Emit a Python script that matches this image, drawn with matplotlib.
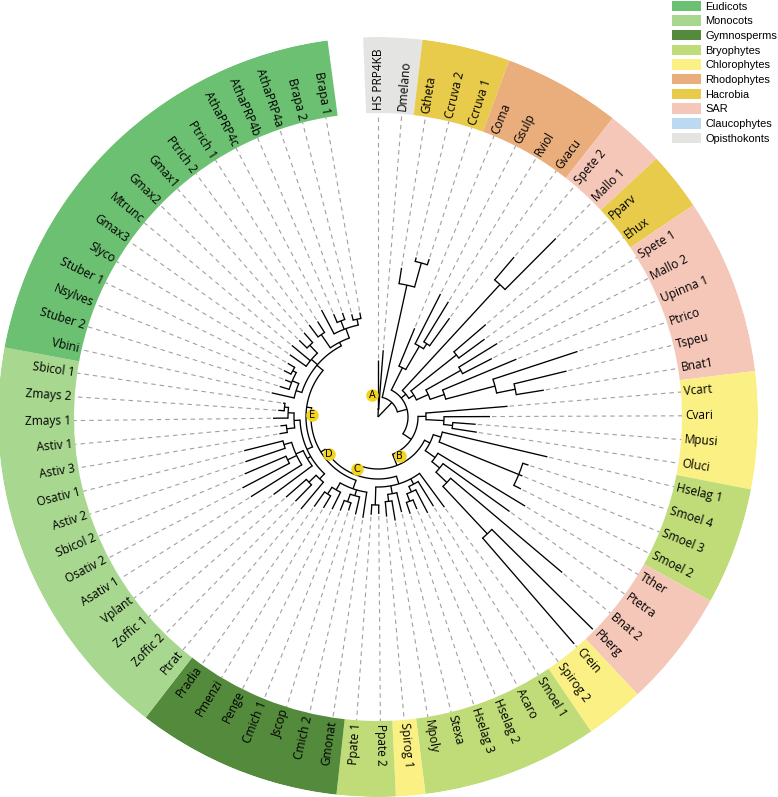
import numpy as np
import matplotlib
matplotlib.use("Agg")
import matplotlib.pyplot as plt
from matplotlib.patches import Patch

# ---------------- data ----------------
leaf_names = [
    "HS PRP4KB", "Dmelano", "Gtheta", "Ccruva 2", "Ccruva 1", "Coma", "Gsulp", "Rviol", "Gvacu",
    "Spete 2", "Mallo 1", "Pparv", "Ehux", "Spete 1", "Mallo 2", "Upinna 1", "Ptrico", "Tspeu", "Bnat1",
    "Vcart", "Cvari", "Mpusi", "Oluci", "Hselag 1", "Smoel 4", "Smoel 3", "Smoel 2",
    "Tther", "Ptetra", "Bnat 2", "Pberg", "Crein", "Spirog 2", "Smoel 1", "Acaro", "Hselag 2",
    "Hselag 3", "Stexa", "Mpoly", "Spirog 1", "Ppate 2", "Ppate 1",
    "Gmonat", "Cmich 2", "Jscop", "Cmich 1", "Penge", "Pmenzi", "Pradia",
    "Ptrat", "Zoffic 2", "Zoffic 1", "Vplant", "Asativ 1", "Osativ 2", "Sbicol 2", "Astiv 2",
    "Osativ 1", "Astiv 3", "Astiv 1", "Zmays 1", "Zmays 2", "Sbicol 1",
    "Vbini", "Stuber 2", "Nsylves", "Stuber 1", "Slyco", "Gmax3", "Mtrunc", "Gmax2", "Gmax1",
    "Ptrich 2", "Ptrich 1", "AthaPRP4c", "AthaPRP4b", "AthaPRP4a", "Brapa 2", "Brapa 1",
]
leaf_groups = (
    ["Opisthokonts"] * 2 + ["Hacrobia"] * 3 + ["Rhodophytes"] * 4 + ["SAR"] * 2 + ["Hacrobia"] * 2
    + ["SAR"] * 6 + ["Chlorophytes"] * 4 + ["Bryophytes"] * 4 + ["SAR"] * 4 + ["Chlorophytes"] * 2
    + ["Bryophytes"] * 6 + ["Chlorophytes"] * 1 + ["Bryophytes"] * 2 + ["Gymnosperms"] * 7
    + ["Monocots"] * 14 + ["Eudicots"] * 16
)
# distance of each tip from the root (tree units)
tip_depth = [
    57, 67, 151, 164, 166, 96, 138, 135, 122,
    210, 252, 142, 132, 140, 128, 150, 210, 194, 168,
    130, 112, 98, 100, 174, 158, 156, 160,
    172, 162, 241, 302, 300, 112, 105, 108, 100,
    102, 98, 105, 100, 97, 98,
    102, 100, 98, 101, 103, 106, 110,
    120, 118, 122, 130, 150, 153, 145, 140,
    138, 100, 98, 105, 100, 96,
    109, 103, 100, 105, 105, 108, 112, 110, 112,
    115, 113, 121, 112, 110, 106, 106,
]

# tree topology: [node depth, child, child, ...]; leaves are names
opis = [8, "HS PRP4KB", "Dmelano"]
hac1 = [135, "Gtheta", [160, "Ccruva 2", "Ccruva 1"]]
rhodo = [55, "Coma", [82, "Gsulp", [88, "Rviol", "Gvacu"]]]
sar_up = [36, [180, "Spete 2", "Mallo 1"],
          [42, [100, "Pparv", "Ehux"],
           [55, [95, "Spete 1", "Mallo 2"],
            [70, "Upinna 1", [121, "Ptrico", [140, "Tspeu", "Bnat1"]]]]]]
chl = [48, "Vcart", [66, "Cvari", [75, "Mpusi", "Oluci"]]]
mixed = [58, [66, "Hselag 1", [152, "Smoel 4", "Smoel 3", "Smoel 2"]],
         [70, "Tther", [80, "Ptetra", [95, "Bnat 2", [160, "Pberg", "Crein"]]]]]
bryo = [70, "Spirog 2", [76, "Smoel 1", [82, "Acaro", [90, "Hselag 2", "Hselag 3"]]],
        [78, "Stexa", [85, "Mpoly", "Spirog 1"]], [88, "Ppate 2", "Ppate 1"]]
gymno = [76, "Gmonat", [82, "Cmich 2", [90, "Jscop", "Cmich 1"]],
         [84, "Penge", [92, "Pmenzi", "Pradia"]]]
mono = [78, [85, "Ptrat", [95, "Zoffic 2", "Zoffic 1"]],
        [82, "Vplant", [90, "Asativ 1", [100, "Osativ 2", "Sbicol 2"], [98, "Astiv 2", "Osativ 1"]]],
        [84, [92, "Astiv 3", "Astiv 1"], [90, "Zmays 1", [94, "Zmays 2", "Sbicol 1"]]]]
eudi = [80, [86, "Vbini", [93, "Stuber 2", "Nsylves", [97, "Stuber 1", "Slyco"]]],
        [88, "Gmax3", "Mtrunc", [99, "Gmax2", "Gmax1"]],
        [84, [100, "Ptrich 2", "Ptrich 1"],
         [94, "AthaPRP4c", [103, "AthaPRP4b", "AthaPRP4a"], [100, "Brapa 2", "Brapa 1"]]]]
angio = [72, mono, eudi]          # E
seed = [67, gymno, angio]         # D
land = [62, bryo, seed]           # C
node_b = [52, mixed, land]        # B
green = [40, chl, node_b]
core = [30, rhodo, sar_up, green]
ingroup = [20, hac1, core]
tree = [0, opis, ingroup]         # A

node_labels = ["A", "B", "C", "D", "E"]
node_label_angle = [105, -61, -112.5, -142.8, 178]
node_label_r = [23, 45, 56, 62, 66]

legend_groups = ["Eudicots", "Monocots", "Gymnosperms", "Bryophytes", "Chlorophytes",
                 "Rhodophytes", "Hacrobia", "SAR", "Claucophytes", "Opisthokonts"]
legend_colors = ["#6CC072", "#A8D78F", "#548A3C", "#BFDC78", "#FBF083",
                 "#EAAE7D", "#E8CB4B", "#F5C7B9", "#BBD9F0", "#E4E4E2"]

# ---------------- layout ----------------
W, H = 778, 797
CX, CY, ROUT, RIN = 378, 417, 380, 304
fig = plt.figure(figsize=(W / 100, H / 100), dpi=100)
ax = fig.add_axes([(CX - ROUT) / W, (H - CY - ROUT) / H, 2 * ROUT / W, 2 * ROUT / H],
                  projection="polar")
ax.set_ylim(0, ROUT)
ax.set_axis_off()

n = len(leaf_names)
step = 360 / 80.2
angles = 90 - np.arange(n) * step
idx = {nm: i for i, nm in enumerate(leaf_names)}
color_of = dict(zip(legend_groups, legend_colors))

# colored ring
i = 0
while i < n:
    j = i
    while j + 1 < n and leaf_groups[j + 1] == leaf_groups[i]:
        j += 1
    a_start = angles[i] + step / 2
    a_end = angles[j] - step / 2
    ax.bar(np.deg2rad((a_start + a_end) / 2), ROUT - RIN, width=np.deg2rad(a_start - a_end),
           bottom=RIN, color=color_of[leaf_groups[i]], edgecolor="none", align="center")
    i = j + 1

# tree
LW = 0.95
def draw(node):
    if isinstance(node, str):
        k = idx[node]
        return angles[k], tip_depth[k]
    depth = node[0]
    pos = [draw(c) for c in node[1:]]
    for a, d in pos:
        ax.plot([np.deg2rad(a)] * 2, [depth, d], color="black", lw=LW, solid_capstyle="butt")
    a0, a1 = pos[0][0], pos[-1][0]
    if depth > 0:
        th = np.deg2rad(np.linspace(a0, a1, 60))
        ax.plot(th, np.full_like(th, depth), color="black", lw=LW)
    return (a0 + a1) / 2, depth

draw(tree)

# dashed guides and labels
for k in range(n):
    th = np.deg2rad(angles[k])
    ax.plot([th, th], [tip_depth[k] + 2, RIN], color="#a0a0a0", lw=0.8,
            linestyle=(0, (4.0, 3.6)))
    a = angles[k] % 360
    if 90.5 < a < 270:
        rot, ha = a - 180, "right"
    else:
        rot, ha = a, "left"
    ax.text(th, RIN + 3, leaf_names[k], rotation=rot, rotation_mode="anchor",
            ha=ha, va="center", fontsize=8.6, family="Open Sans", color="black")

# node labels
for lab, a, r in zip(node_labels, node_label_angle, node_label_r):
    ax.plot([np.deg2rad(a)], [r], marker="o", ms=9.0, color="#F3D31E", mec="none")
    ax.text(np.deg2rad(a), r, lab, ha="center", va="center", fontsize=7,
            family="DejaVu Sans", color="black")

# legend
handles = [Patch(facecolor=c, edgecolor="none") for c in legend_colors]
fig.legend(handles, legend_groups, loc="upper right", bbox_to_anchor=(1.0, 1.0),
           frameon=False, prop={"family": "Liberation Sans", "size": 7.9},
           handlelength=2.64, handleheight=1.09, labelspacing=0.34, handletextpad=0.41,
           borderaxespad=0.0, borderpad=0.05)

fig.savefig("out.png", dpi=100)
